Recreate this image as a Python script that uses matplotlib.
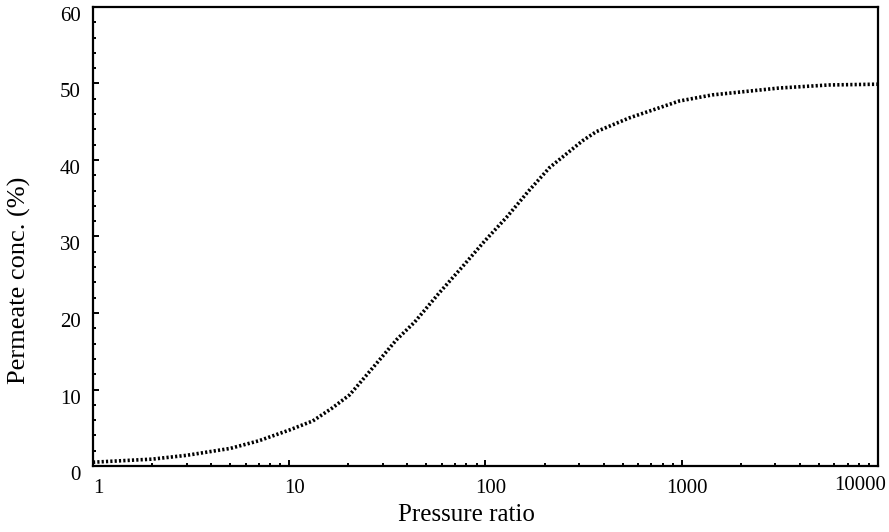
import matplotlib
matplotlib.use("Agg")
import matplotlib.pyplot as plt
import matplotlib.transforms as mtransforms
from matplotlib.ticker import FixedLocator, LogLocator, MultipleLocator, NullFormatter

# Permeate concentration vs pressure ratio
pressure_ratio = [1, 2, 3, 5, 7, 10, 13.2, 16.6, 20.3, 22.8, 28.9, 35.2,
                  43.5, 58, 76, 99, 128, 164, 212, 312, 367, 541, 971,
                  1430, 3135, 5630, 10000]
permeate_conc = [0.5, 0.9, 1.4, 2.3, 3.3, 4.7, 5.9, 7.6, 9.3, 10.8, 13.9,
                 16.5, 18.8, 22.6, 26.0, 29.4, 32.5, 35.8, 39.0, 42.5, 43.7,
                 45.5, 47.7, 48.5, 49.4, 49.8, 49.9]

x_ticks = [1, 10, 100, 1000, 10000]
x_tick_labels = ["1", "10", "100", "1000", "10000"]
y_ticks = [0, 10, 20, 30, 40, 50, 60]

plt.rcParams["font.family"] = ["Liberation Serif", "DejaVu Serif"]

fig = plt.figure(figsize=(8.89, 5.32), dpi=100)
ax = fig.add_axes([0.1046, 0.124, 0.883, 0.863])

ax.plot(pressure_ratio, permeate_conc, color="black", linewidth=2.6,
        linestyle=(0, (0.6, 0.6)))

ax.set_xscale("log")
ax.set_xlim(1, 10000)
ax.set_ylim(0, 60)

ax.xaxis.set_major_locator(FixedLocator(x_ticks))
ax.set_xticklabels(x_tick_labels)
ax.xaxis.set_minor_locator(LogLocator(base=10, subs=range(2, 10)))
ax.xaxis.set_minor_formatter(NullFormatter())
ax.yaxis.set_major_locator(FixedLocator(y_ticks))
ax.yaxis.set_minor_locator(MultipleLocator(2))

ax.tick_params(which="both", direction="in", width=1.4, labelsize=15,
               top=False, right=False)
ax.tick_params(which="major", length=4)
ax.tick_params(which="minor", length=2.5)
ax.tick_params(axis="x", pad=9)
ax.tick_params(axis="y", pad=9)

for sp in ax.spines.values():
    sp.set_linewidth(1.6)

# nudge labels like the original: y labels sit a bit low
down = mtransforms.ScaledTranslation(0, -7 / 100, fig.dpi_scale_trans)
for lab in ax.get_yticklabels():
    lab.set_transform(lab.get_transform() + down)
shift = mtransforms.ScaledTranslation(5 / 100, 0, fig.dpi_scale_trans)
for lab in ax.get_xticklabels():
    lab.set_transform(lab.get_transform() + shift)
last = ax.get_xticklabels()[-1]
last.set_transform(last.get_transform()
                   + mtransforms.ScaledTranslation(-23 / 100, 3 / 100,
                                                   fig.dpi_scale_trans))

fig.text(466 / 889, 1 - 515 / 532, "Pressure ratio", fontsize=18,
         ha="center", va="center")
fig.text(19 / 889, 1 - 280 / 532, "Permeate conc. (%)", fontsize=19,
         rotation=90, ha="center", va="center")

fig.savefig("out.png", dpi=100)
